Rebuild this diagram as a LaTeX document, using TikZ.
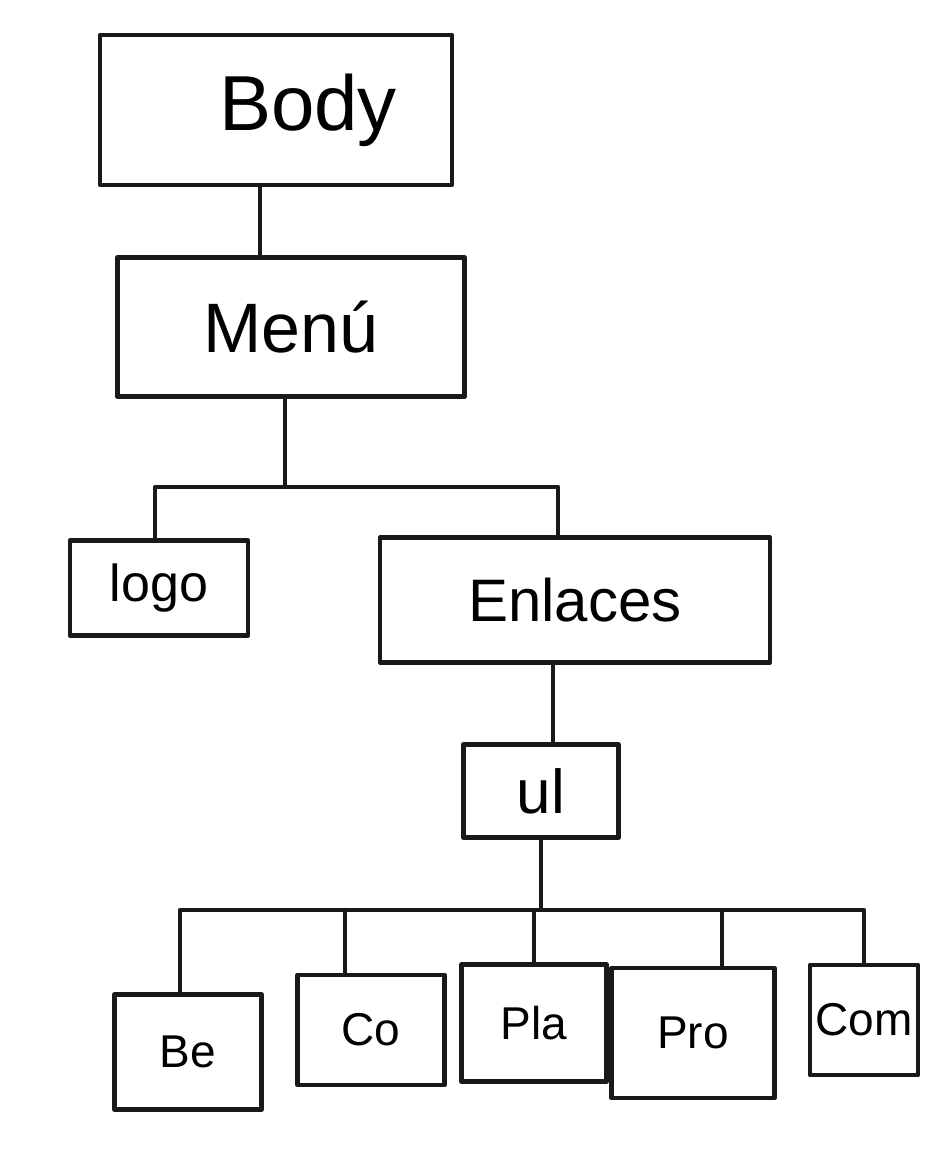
\documentclass[tikz,border=0pt]{standalone}
\usepackage{fontspec}
\usetikzlibrary{calc}
\setmainfont{Liberation Sans}
\begin{document}
\begin{tikzpicture}[x=1pt,y=-1pt,
  line width=4.5pt, line cap=round, line join=round,
  box/.style={draw=black!90, rectangle, inner sep=0pt, anchor=center},
  conn/.style={draw=black!90, line width=4pt}]
\useasboundingbox[fill=white] (0,0) rectangle (930,1168);
\node[box, minimum width=352pt, minimum height=150pt, font=\fontsize{78}{88}\selectfont] (body) at (276,110) {\hspace*{64pt}Body};
\node[box, minimum width=347pt, minimum height=139pt, font=\fontsize{70}{80}\selectfont] (menu) at (291,327) {Menú};
\node[box, minimum width=178pt, minimum height=95pt, font=\fontsize{52}{60}\selectfont] (logo) at (159,588) {logo};
\node[box, minimum width=390pt, minimum height=125pt, font=\fontsize{60}{70}\selectfont] (enl) at (575,600) {Enlaces};
\node[box, minimum width=155pt, minimum height=93pt, font=\fontsize{62}{70}\selectfont] (ul) at (541,791) {ul};
\node[box, minimum width=147pt, minimum height=115pt, font=\fontsize{46}{54}\selectfont] (be) at (188,1052) {Be};
\node[box, minimum width=147pt, minimum height=110pt, font=\fontsize{46}{54}\selectfont] (co) at (371,1030) {Co};
\node[box, minimum width=145pt, minimum height=117pt, font=\fontsize{46}{54}\selectfont] (pla) at (534,1023) {Pla};
\node[box, minimum width=163pt, minimum height=130pt, font=\fontsize{46}{54}\selectfont] (pro) at (693,1033) {Pro};
\node[box, minimum width=108pt, minimum height=110pt, font=\fontsize{46}{54}\selectfont] (com) at (864,1020) {Com};
% connectors
\draw[conn] ($(body.south)+(-16,0)$) coordinate (bs) -- (bs |- menu.north);
\draw[conn] ($(menu.south)+(-6,0)$) -- ++(0,88) coordinate (mj);
\draw[conn] ($(logo.north)+(-4,0)$) coordinate (ln) |- (mj) -| ($(enl.north)+(-17,0)$);
\draw[conn] ($(ul.north)+(12,0)$) coordinate (un) -- (un |- enl.south);
\draw[conn] (ul.south) -- ++(0,70) coordinate (uj);
\draw[conn] ($(be.north)+(-8,0)$) |- (uj) -| (com.north);
\draw[conn] ($(co.north)+(-26,0)$) coordinate (cn) -- (cn |- uj);
\draw[conn] (pla.north) -- (pla.north |- uj);
\draw[conn] ($(pro.north)+(29,0)$) coordinate (pn) -- (pn |- uj);
\end{tikzpicture}
\end{document}
